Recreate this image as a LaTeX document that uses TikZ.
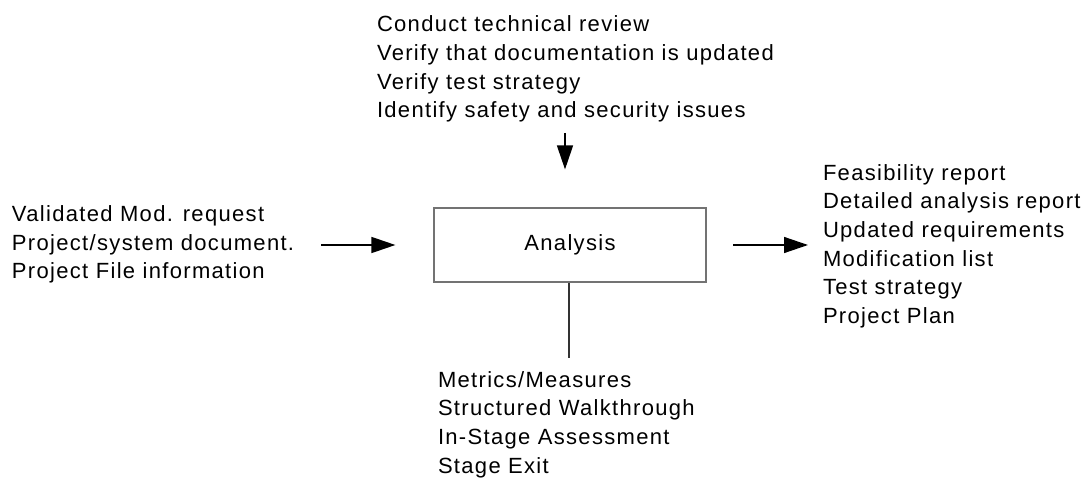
\documentclass[tikz,border=0pt]{standalone}
\usepackage{fontspec}
\newfontfamily\diagfont{Liberation Sans}[LetterSpace=6]
\usetikzlibrary{arrows.meta}
\tikzset{
  lbl/.style={inner sep=0pt, outer sep=0pt, align=left, anchor=base west,
    font=\diagfont\fontsize{22}{28.7}\selectfont},
  procbox/.style={draw=black!55, line width=1.2pt, minimum width=272pt, minimum height=74pt,
    inner sep=0pt, font=\diagfont\fontsize{22}{28.7}\selectfont},
  arr/.style={line width=1.4pt, -{Triangle[length=24pt,width=16pt]}},
  plainline/.style={line width=1.6pt, draw=black!80}
}
\begin{document}
\begin{tikzpicture}[x=1pt,y=-1pt]
\useasboundingbox (0,0) rectangle (1087,478);
\node[procbox] (box) at (570,245) {Analysis};
\node[lbl] (top) at (377,117.8) {Conduct technical review\\Verify that documentation is updated\\Verify test strategy\\Identify safety and security issues};
\node[lbl] (left) at (12,278.9) {Validated Mod. request\\Project/system document.\\Project File information};
\node[lbl] (right) at (823,323.5) {Feasibility report\\Detailed analysis report\\Updated requirements\\Modification list\\Test strategy\\Project Plan};
\node[lbl] (bottom) at (438,473.1) {Metrics/Measures\\Structured Walkthrough\\In-Stage Assessment\\Stage Exit};
\coordinate (ls) at (321,245);
\coordinate (ts) at (565,133);
\coordinate (rs) at (733,245);
\coordinate (be) at (569,358);
\draw[arr, shorten >=38pt] (ls) -- (box.west);
\draw[arr, shorten >=38pt] (ts) -- (ts |- box.north);
\draw[arr, shorten >=15pt] (rs) -- (rs -| right.west);
\draw[plainline] (be |- box.south) -- (be);
\end{tikzpicture}
\end{document}
